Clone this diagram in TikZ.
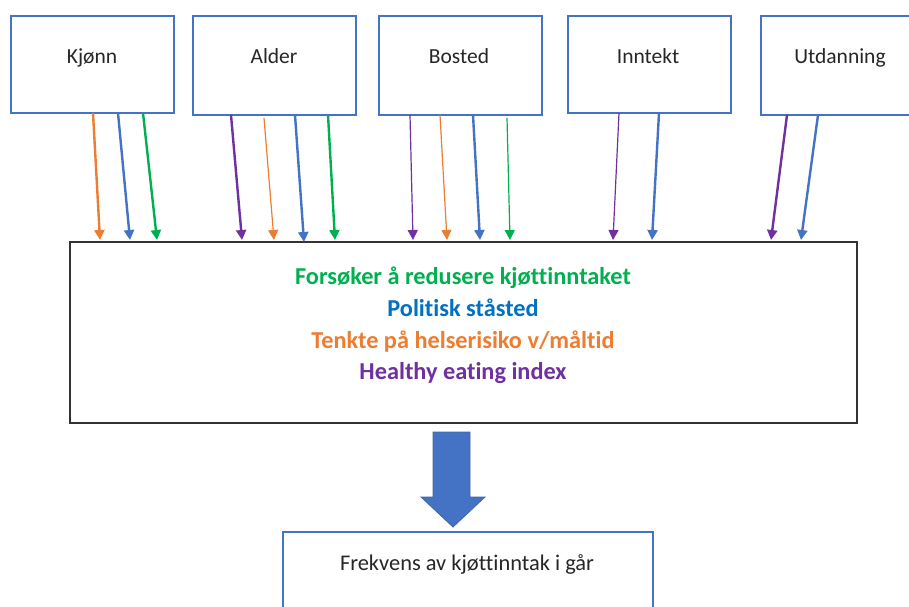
\documentclass[tikz,border=0pt]{standalone}
\usepackage{fontspec}
\setmainfont[Ligatures=NoCommon]{Carlito}
\usetikzlibrary{arrows.meta}
\definecolor{cOrange}{HTML}{ED7D31}
\definecolor{cBlue}{HTML}{4472C4}
\definecolor{cGreen}{HTML}{00B050}
\definecolor{cPurple}{HTML}{7030A0}
\definecolor{tBlue}{HTML}{0070C0}
\definecolor{cFrame}{HTML}{41699E}
\tikzset{
  varbox/.style={draw=cBlue, line width=1.5pt, fill=white, inner sep=0pt},
  varlabel/.style={anchor=base, inner sep=0pt, font=\fontsize{21.5}{26}\selectfont, text=black!85},
  mainlabel/.style={anchor=base, inner sep=0pt, font=\bfseries\fontsize{24.3}{28}\selectfont},
  link/.style={-{Triangle[width=10pt,length=10pt]}, line width=2.4pt},
  thinlink/.style={-{Triangle[width=10pt,length=10pt]}, line width=1.2pt},
}
\begin{document}
\begin{tikzpicture}[x=1pt,y=-1pt]
\useasboundingbox (0,0) rectangle (909,606);
\fill[white] (0,0) rectangle (909,606);
% top boxes
\node[varbox, minimum width=163pt, minimum height=97pt] (kj) at (92.5,64.5) {};
\node[varbox, minimum width=163pt, minimum height=99pt] (al) at (274.5,65.5) {};
\node[varbox, minimum width=163pt, minimum height=99pt] (bo) at (460.5,65.5) {};
\node[varbox, minimum width=163pt, minimum height=97pt] (in) at (649.5,64.5) {};
\node[varbox, minimum width=163pt, minimum height=99pt] (ut) at (842.5,65.5) {};
\node[varlabel] (kjt) at (92,63) {Kjønn};
\node[varlabel] (alt) at (274,63) {Alder};
\node[varlabel] (bot) at (459,63) {Bosted};
\node[varlabel] (int) at (648,63) {Inntekt};
\node[varlabel] (utt) at (840,63) {Utdanning};
% main box
\node[draw=black!80, line width=1.6pt, minimum width=787pt, minimum height=181pt, inner sep=0pt] (main) at (463.5,332.5) {};
\node[mainlabel, text=cGreen] (m1) at (463,284) {Forsøker å redusere kjøttinntaket};
\node[mainlabel, text=tBlue] (m2) at (463,316) {Politisk ståsted};
\node[mainlabel, text=cOrange] (m3) at (463,348) {Tenkte på helserisiko v/måltid};
\node[mainlabel, text=cPurple] (m4) at (463,379) {Healthy eating index};
% outcome box
\node[draw=cBlue, line width=1.5pt, minimum width=370pt, minimum height=100pt, inner sep=0pt] (out) at (468,582) {};
\node[varlabel, font=\fontsize{22.4}{27}\selectfont] (outt) at (467,570) {Frekvens av kjøttinntak i går};
% arrow endpoints
\coordinate (a1) at (93,113);  \coordinate (b1) at (100,240);
\coordinate (a2) at (118,113); \coordinate (b2) at (130,240);
\coordinate (a3) at (143,113); \coordinate (b3) at (157,240);
\coordinate (a4) at (231,115); \coordinate (b4) at (242,240);
\coordinate (a5) at (264,118); \coordinate (b5) at (274,240);
\coordinate (a6) at (295,115); \coordinate (b6) at (304,242);
\coordinate (a7) at (328,115); \coordinate (b7) at (335,240);
\coordinate (a8) at (410,115); \coordinate (b8) at (413,240);
\coordinate (a9) at (440,115); \coordinate (b9) at (447,240);
\coordinate (a10) at (473,115); \coordinate (b10) at (480,240);
\coordinate (a11) at (507,118); \coordinate (b11) at (510,240);
\coordinate (a12) at (619,113); \coordinate (b12) at (613,240);
\coordinate (a13) at (659,113); \coordinate (b13) at (652,240);
\coordinate (a14) at (787,115); \coordinate (b14) at (771,240);
\coordinate (a15) at (818,115); \coordinate (b15) at (801,240);
\draw[link, cOrange] (a1) -- (b1);
\draw[link, cBlue] (a2) -- (b2);
\draw[link, cGreen] (a3) -- (b3);
\draw[link, cPurple] (a4) -- (b4);
\draw[thinlink, cOrange] (a5) -- (b5);
\draw[link, cBlue] (a6) -- (b6);
\draw[link, cGreen] (a7) -- (b7);
\draw[thinlink, cPurple] (a8) -- (b8);
\draw[thinlink, cOrange] (a9) -- (b9);
\draw[link, cBlue] (a10) -- (b10);
\draw[thinlink, cGreen] (a11) -- (b11);
\draw[thinlink, cPurple] (a12) -- (b12);
\draw[link, cBlue] (a13) -- (b13);
\draw[link, cPurple] (a14) -- (b14);
\draw[link, cBlue] (a15) -- (b15);
% big block arrow
\fill[cBlue, draw=cFrame, line width=0.8pt] (433,432) -- (470,432) -- (470,497) -- (485,497) -- (453,527) -- (421,497) -- (433,497) -- cycle;
\end{tikzpicture}
\end{document}
